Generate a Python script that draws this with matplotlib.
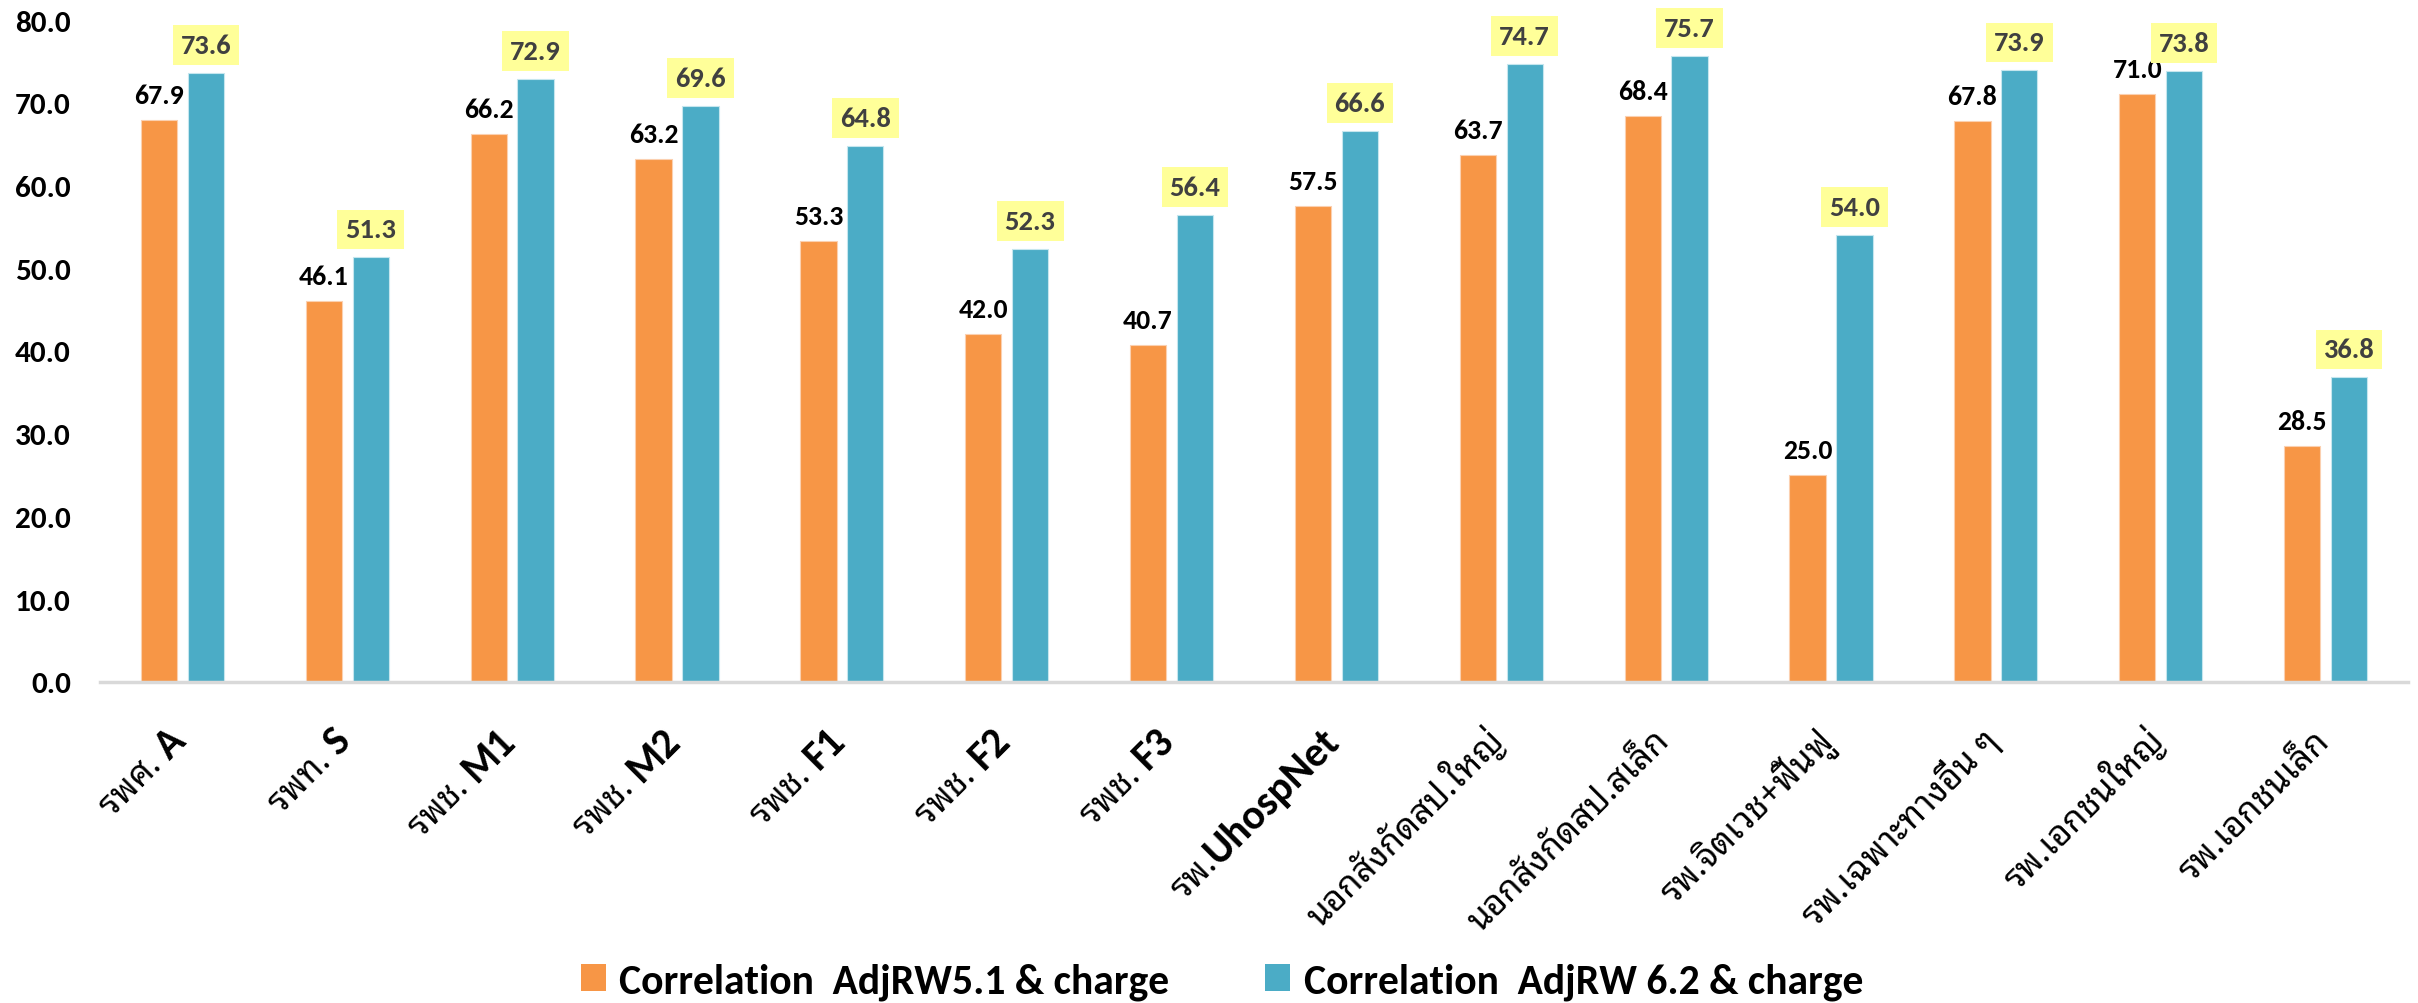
import re
import numpy as np
import matplotlib
matplotlib.use("Agg")
import matplotlib.pyplot as plt

categories = ["รพศ. A", "รพท. S", "รพช. M1", "รพช. M2", "รพช. F1", "รพช. F2", "รพช. F3",
              "รพ.UhospNet", "นอกสังกัดสป.ใหญ่", "นอกสังกัดสป.สเล็ก", "รพ.จิตเวช+ฟื้นฟู",
              "รพ.เฉพาะทางอื่น ๆ", "รพ.เอกชนใหญ่", "รพ.เอกชนเล็ก"]
adjrw51 = [67.9, 46.1, 66.2, 63.2, 53.3, 42.0, 40.7, 57.5, 63.7, 68.4, 25.0, 67.8, 71.0, 28.5]
adjrw62 = [73.6, 51.3, 72.9, 69.6, 64.8, 52.3, 56.4, 66.6, 74.7, 75.7, 54.0, 73.9, 73.8, 36.8]
series_names = ["Correlation  AdjRW5.1 & charge", "Correlation  AdjRW 6.2 & charge"]
yticks = [0, 10, 20, 30, 40, 50, 60, 70, 80]

ORANGE = "#F79646"
BLUE = "#4BACC6"
LAT = ["Carlito", "DejaVu Sans"]
THAI = ["Noto Sans Thai Looped", "Carlito", "DejaVu Sans"]

W, H = 2418, 1004
fig = plt.figure(figsize=(W / 100, H / 100), dpi=100)
ax = fig.add_axes([100 / W, 1 - 683 / H, 2308 / W, (683 - 21) / H])

x = np.arange(len(categories))
bw, off = 0.22, 0.142
b1 = ax.bar(x - off, adjrw51, bw, color=ORANGE, edgecolor="#FBD0B0", linewidth=0.8,
            label=series_names[0])
b2 = ax.bar(x + off, adjrw62, bw, color=BLUE, edgecolor="#C5E6EE", linewidth=0.8,
            label=series_names[1])

ax.set_xlim(-0.5, len(categories) - 0.5)
ax.set_ylim(0, 80)
ax.set_yticks(yticks)
ax.set_yticklabels([f"{v:.1f}" for v in yticks], family=LAT, fontsize=22.5,
                   fontweight="bold")
ax.tick_params(axis="y", length=0, pad=21)
ax.tick_params(axis="x", length=0)
ax.set_xticks(x)
ax.set_xticklabels([])
for s in ["top", "right", "left"]:
    ax.spines[s].set_visible(False)
ax.spines["bottom"].set_color("#D9D9D9")
ax.spines["bottom"].set_linewidth(2.5)

for xi, v in zip(x, adjrw51):
    ax.annotate(f"{v:.1f}", (xi - off, v), xytext=(0, 13), textcoords="offset pixels",
                ha="center", va="bottom", family=LAT, fontsize=20, fontweight="bold",
                color="black")
for xi, v in zip(x, adjrw62):
    ax.annotate(f"{v:.1f}", (xi + off, v), xytext=(0, 16), textcoords="offset pixels",
                ha="center", va="bottom", family=LAT, fontsize=20.5, fontweight="bold",
                color="#404040",
                bbox=dict(boxstyle="square,pad=0.28", facecolor="#FFFF99", edgecolor="none"))

# rotated category labels: Thai part regular, Latin part bold and larger
fig.canvas.draw()
renderer = fig.canvas.get_renderer()
c45 = np.cos(np.pi / 4)
for xi, lab in zip(x, categories):
    m = re.match(r"^(.*?)([A-Za-z0-9]+)$", lab)
    thai, latin = (m.group(1), m.group(2)) if m else (lab, "")
    px, py = ax.transData.transform((xi, 0))
    ax_x, ax_y = px + 5, py - 60
    if latin:
        tmp = fig.text(0, 0, latin, family=LAT, fontsize=30, fontweight="bold",
                       transform=None)
        wl = tmp.get_window_extent(renderer).width
        tmp.remove()
        fig.text(ax_x, ax_y, latin, family=LAT, fontsize=30, fontweight="bold",
                 rotation=45, rotation_mode="anchor", ha="right", va="baseline",
                 transform=None)
        ax_x -= wl * c45
        ax_y -= wl * c45
    fig.text(ax_x, ax_y, thai, family=THAI, fontsize=25, fontweight="medium",
             rotation=45, rotation_mode="anchor", ha="right", va="baseline",
             transform=None)

leg = fig.legend(handles=[b1, b2], labels=series_names, loc="center",
                 bbox_to_anchor=(1222 / W, 1 - 982 / H), ncol=2, frameon=False,
                 prop=dict(family=LAT, size=30, weight="bold"),
                 handlelength=0.6, handleheight=0.6, handletextpad=0.33,
                 columnspacing=2.3)
for h in leg.legend_handles:
    h.set_edgecolor("none")

fig.savefig("out.png", dpi=100)
